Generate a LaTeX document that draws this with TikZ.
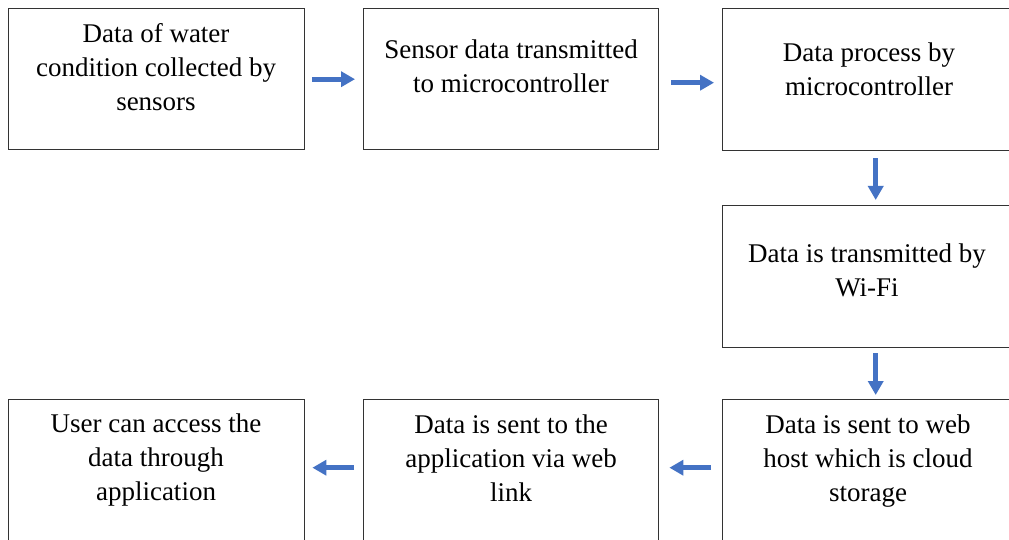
\documentclass[tikz,border=0pt]{standalone}
\usepackage{fontspec}
\setmainfont{Liberation Serif}
\newfontfamily\tnr{Liberation Serif}
\usetikzlibrary{arrows.meta}
\definecolor{arrowblue}{RGB}{68,114,196}
\begin{document}
\begin{tikzpicture}[x=1pt,y=-1pt,
 box/.style={draw=black!80, line width=1.4pt, minimum width=296pt, minimum height=142pt, inner sep=0pt, anchor=north west},
 txt/.style={anchor=north, inner sep=0pt, align=center, font=\tnr\fontsize{27}{34}\selectfont},
 flow/.style={draw=arrowblue, line width=5pt, -{Triangle[length=14pt,width=15pt]}}]
\useasboundingbox (0,0) rectangle (1009,540);
\clip (0,0) rectangle (1009,540);
\fill[white] (0,0) rectangle (1009,540);
% boxes
\node[box, minimum height=141pt] (b1) at (8,8) {};
\node[box, minimum width=295pt, minimum height=141pt] (b2) at (363,8) {};
\node[box] (b3) at (722,8) {};
\node[box] (b4) at (722,205) {};
\node[box] (b5) at (8,399) {};
\node[box, minimum width=295pt] (b6) at (363,399) {};
\node[box] (b7) at (722,399) {};
% texts
\node[txt] (t1) at (156,18.2) {\strut Data of water\\condition collected by\\sensors};
\node[txt] (t2) at (511,34.2) {\strut Sensor data transmitted\\to microcontroller};
\node[txt] (t3) at (869,37.2) {\strut Data process by\\microcontroller};
\node[txt] (t4) at (867,238.2) {\strut Data is transmitted by\\Wi-Fi};
\node[txt] (t5) at (156,408.2) {\strut User can access the\\data through\\application};
\node[txt] (t6) at (511,409.2) {\strut Data is sent to the\\application via web\\link};
\node[txt] (t7) at (868,409.2) {\strut Data is sent to web\\host which is cloud\\storage};
% arrows
\draw[flow] ([xshift=7pt]b1.east) -- ([xshift=-8pt]b2.west);
\draw[flow] ([xshift=12pt,yshift=-3.5pt]b2.east) -- ([xshift=-8pt,yshift=-3pt]b3.west);
\draw[flow] ([xshift=5pt,yshift=-7pt]b3.south) -- ([xshift=5pt,yshift=5pt]b4.north);
\draw[flow] ([xshift=5pt,yshift=-5pt]b4.south) -- ([xshift=5pt,yshift=4pt]b7.north);
\draw[flow] ([xshift=-11pt,yshift=3pt]b7.west) -- ([xshift=10pt,yshift=3pt]b6.east);
\draw[flow] ([xshift=-9pt,yshift=3pt]b6.west) -- ([xshift=7pt,yshift=3pt]b5.east);
\end{tikzpicture}
\end{document}
